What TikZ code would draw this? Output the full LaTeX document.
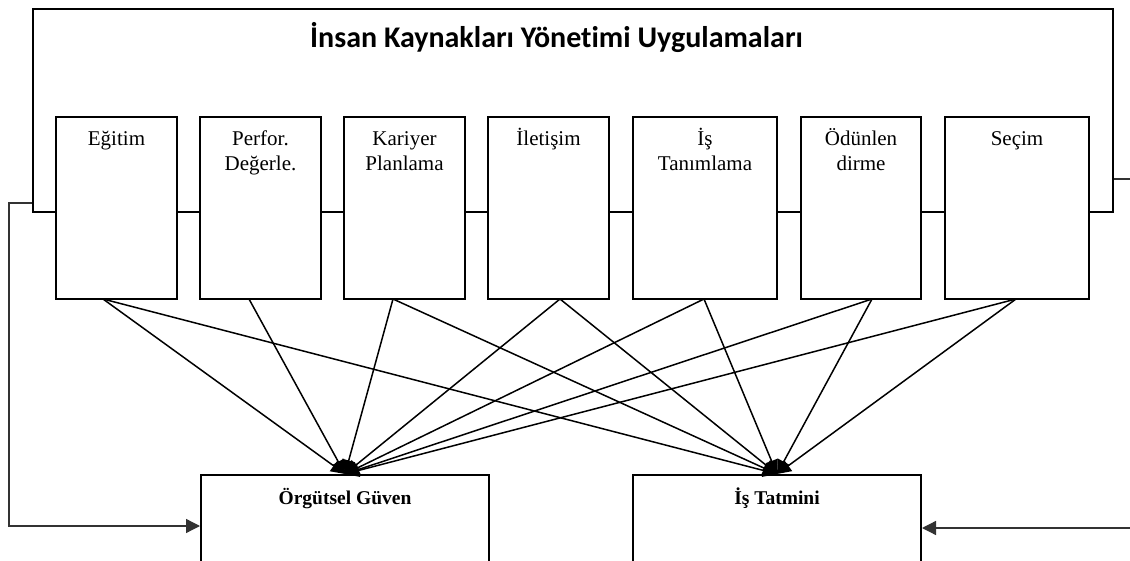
\documentclass[tikz,border=0pt]{standalone}
\usepackage{fontspec}
\setmainfont{Liberation Serif}
\newfontfamily\titlefont[Ligatures=NoCommon]{Carlito}
\usetikzlibrary{positioning, calc, arrows.meta}
\definecolor{ink}{HTML}{000000}
\definecolor{feed}{HTML}{333333}
\newcommand{\BoxF}{\fontsize{21}{25}\selectfont}
\newcommand{\OutF}{\fontsize{19.5}{24}\selectfont\bfseries}
\newcommand{\TitleF}{\titlefont\bfseries\fontsize{30}{34}\selectfont}
\tikzset{
  hrbox/.style={draw=ink, line width=2pt, fill=white, minimum height=182pt, inner sep=0pt},
  boxlabel/.style={anchor=base, font=\BoxF, text=ink, inner sep=0pt},
  outbox/.style={draw=ink, line width=2pt, fill=white, minimum width=288pt, minimum height=120pt, inner sep=0pt},
  link/.style={draw=ink, line width=1.5pt, -{Triangle[length=14pt,width=13pt]}},
  feedback/.style={draw=feed, line width=1.3pt, -{Triangle[length=14pt,width=14pt]}}
}
\newcommand{\hrbox}[5]{%
  \node[hrbox, minimum width=#3] (#1) at (#2+#3/2,208) {};
  \node[boxlabel] at ([yshift=-30pt]#1.north) {\begin{tabular}[t]{@{}c@{}}#4\end{tabular}};
  \coordinate (#1-out) at (#5,299);
}
\begin{document}
\begin{tikzpicture}[x=1pt,y=-1pt]
\path[use as bounding box, fill=white] (0,0) rectangle (1130,561);
\node[draw=ink, line width=2pt, minimum width=1080pt, minimum height=203pt, inner sep=0pt] (uygulama) at (573,110.5) {};
\node[font=\TitleF, text=ink, anchor=base] (baslik) at (556.5,48) {İnsan Kaynakları Yönetimi Uygulamaları};
\hrbox{egitim}{56}{121}{Eğitim}{103}
\hrbox{perfor}{200}{121}{Perfor.\\Değerle.}{249}
\hrbox{kariyer}{344}{121}{Kariyer\\Planlama}{393}
\hrbox{iletisim}{488}{121}{İletişim}{560}
\hrbox{tanim}{633}{144}{İş\\Tanımlama}{704}
\hrbox{odul}{801}{120}{Ödünlen\\dirme}{872}
\hrbox{secim}{945}{144}{Seçim}{1016}
\node[outbox] (guven) at (345,535) {};
\node[boxlabel, font=\OutF] at ([yshift=-30pt]guven.north) {Örgütsel Güven};
\node[outbox] (tatmin) at (777,535) {};
\node[boxlabel, font=\OutF] at ([yshift=-30pt]tatmin.north) {İş Tatmini};
\foreach \src in {egitim,perfor,kariyer,iletisim,tanim,odul,secim}
  \draw[link] (\src-out) -- (guven.north);
\foreach \src in {egitim,kariyer,iletisim,tanim,odul,secim}
  \draw[link] (\src-out) -- (tatmin.north);
\draw[feedback] (uygulama.west |- 0,203) -- (9,203) -- (9,526) -- (guven.west |- 0,526);
\draw[feedback] (uygulama.east |- 0,179) -- (1140,179) -- (1140,528) -- (tatmin.east |- 0,528);
\end{tikzpicture}
\end{document}
